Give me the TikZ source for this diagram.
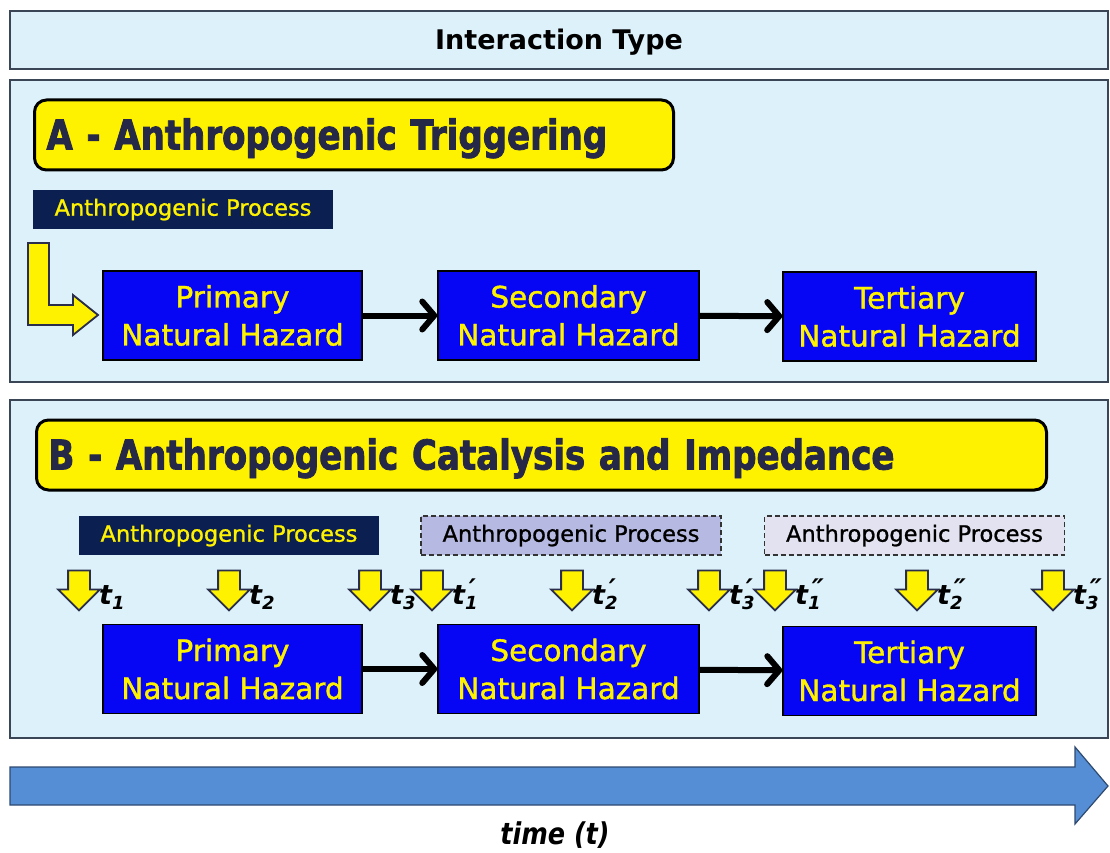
\documentclass[tikz,border=0pt]{standalone}
\usepackage{fontspec}
\setmainfont{DejaVu Sans}
\usetikzlibrary{arrows.meta,shapes.arrows}

\definecolor{panelfill}{HTML}{DCF1F9}
\definecolor{panelline}{HTML}{3A4656}
\definecolor{navy}{HTML}{0B1F50}
\definecolor{hazblue}{HTML}{0606F4}
\definecolor{titletext}{HTML}{262848}
\definecolor{lavender}{HTML}{B6BAE2}
\definecolor{palelav}{HTML}{E2E2F0}
\definecolor{timeblue}{HTML}{558ED5}
\definecolor{timeedge}{HTML}{2E4A70}
\definecolor{arrowedge}{HTML}{2A2E4C}

\tikzstyle{panel}=[draw=panelline, line width=1.5pt, fill=panelfill]
\tikzstyle{title}=[draw=black, line width=3pt, fill=yellow, rounded corners=12pt, anchor=west,
  minimum height=70pt, inner xsep=12pt, align=left, text=titletext, text height=29pt, text depth=0pt,
  font=\fontsize{41}{41}\selectfont\bfseries\addfontfeature{FakeStretch=0.83,FakeBold=2}]
\tikzstyle{process}=[fill=navy, text=yellow, minimum width=300pt, minimum height=39pt, inner sep=0pt,
  font=\fontsize{22.5}{24}\selectfont\addfontfeature{FakeBold=1}]
\tikzstyle{weakproc}=[process, fill=lavender, text=black, draw=black!80, line width=1.2pt, dash pattern=on 5pt off 3pt]
\tikzstyle{faintproc}=[weakproc, fill=palelav]
\tikzstyle{hazard}=[draw=black, line width=1.5pt, fill=hazblue, text=yellow, align=center,
  minimum height=89pt, inner sep=0pt, font=\fontsize{29.5}{38}\selectfont\addfontfeature{FakeBold=1.2}]
\tikzstyle{link}=[draw, line width=6pt, -{Straight Barb[length=12pt,width=28pt,line cap=round,line join=round]}]
\tikzstyle{yellowarrow}=[fill=yellow, draw=arrowedge, line width=1.8pt, line join=miter]
\tikzstyle{droparrow}=[yellowarrow, single arrow, rotate=-90, minimum height=40pt, inner sep=10pt,
  single arrow head extend=10pt]
\tikzstyle{tlabel}=[anchor=base west, inner sep=0pt, font=\fontsize{27}{27}\selectfont\bfseries\itshape]

\newcommand{\tmark}[2]{t\makebox[0pt][l]{\raisebox{0.2em}{\kern0.14em#2}}%
  \raisebox{-0.22em}{\fontsize{18}{18}\selectfont#1}}

\begin{document}
\begin{tikzpicture}[x=1pt, y=-1pt]
\useasboundingbox (0,0) rectangle (1110,853);

% First we draw the header and the two panels
\node[panel, minimum width=1098pt, minimum height=58pt, text height=19pt, text depth=0pt,
  font=\fontsize{27}{30}\selectfont\bfseries] (header) at (559,40) {Interaction Type};
\draw[panel] (10,80) rectangle (1108,382);
\draw[panel] (10,400) rectangle (1108,738);

\node[title, text width=615pt] (titleA) at (33,135) {A - Anthropogenic Triggering};
\node[title, text width=986pt] (titleB) at (35,455) {B - Anthropogenic Catalysis and Impedance};

% Anthropogenic processes
\foreach \pos/\name/\kind in {{(183,209.5)/procA/process}, {(229,535.5)/procB1/process},
                              {(571,535.5)/procB2/weakproc}, {(914.5,535.5)/procB3/faintproc}}
  \node[\kind] (\name) at \pos {Anthropogenic Process};

% Then the hazards
\foreach \pos/\name/\boxw/\txt in {{(232.5,315.5)/primA/259/Primary}, {(568.5,315.5)/secA/261/Secondary},
                                   {(909.5,316.5)/terA/253/Tertiary}, {(232.5,669)/primB/259/Primary},
                                   {(568.5,669)/secB/261/Secondary}, {(909.5,671)/terB/253/Tertiary}}
  \node[hazard, minimum width=\boxw pt] (\name) at \pos {\txt\\Natural Hazard};

% Connect hazards with arrows
\foreach \source/\dest in {primA/secA, secA/terA, primB/secB, secB/terB}
  \path[link] (\source) -- (\dest);

% Triggering arrow
\path[yellowarrow] (28,243) -- (49,243) -- (49,305) -- (73,305) -- (73,295) -- (98,315)
  -- (73,335) -- (73,325) -- (28,325) -- cycle;

% Time steps
\foreach \x/\name/\sub/\mark in {79/t1/1/{}, 229/t2/2/{}, 370/t3/3/{}, 432/t1p/1/′, 572/t2p/2/′,
                                 709/t3p/3/′, 775/t1pp/1/″, 917/t2pp/2/″, 1053/t3pp/3/″}
{
  \node[droparrow] (\name) at (\x,585) {};
  \node[tlabel] (\name-l) at (\x+20,604) {\tmark{\sub}{\mark}};
}

% Time axis
\path[fill=timeblue, draw=timeedge, line width=1.2pt, line join=miter] (10,767) -- (1075,767) -- (1075,747)
  -- (1108,786) -- (1075,824) -- (1075,805) -- (10,805) -- cycle;
\node[font=\fontsize{30}{30}\selectfont\bfseries\itshape\addfontfeature{FakeStretch=0.85}]
  (timelbl) at (555,835) {time (t)};
\end{tikzpicture}
\end{document}
